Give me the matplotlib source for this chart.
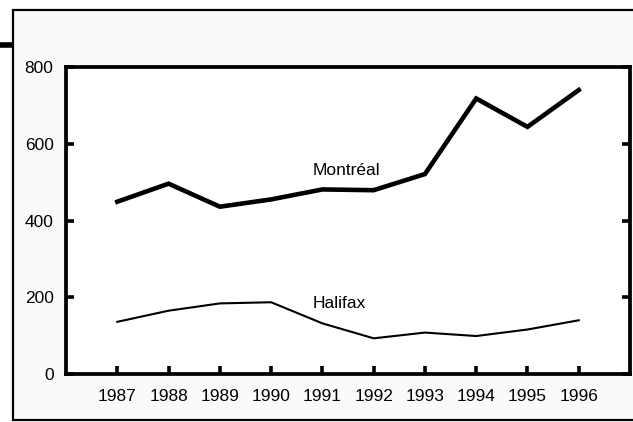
import matplotlib
matplotlib.use("Agg")
import matplotlib.pyplot as plt
from matplotlib.patches import Rectangle
from matplotlib.lines import Line2D

plt.rcParams['font.family'] = ['Liberation Sans', 'DejaVu Sans']

# data
years = [1987, 1988, 1989, 1990, 1991, 1992, 1993, 1994, 1995, 1996]
montreal = [449, 496, 436, 455, 481, 479, 521, 718, 644, 740]
halifax = [136, 165, 184, 187, 132, 93, 108, 99, 116, 140]
yticks = [0, 200, 400, 600, 800]

fig = plt.figure(figsize=(6.33, 4.22), dpi=100)
fig.patch.set_facecolor('white')

# outer frame (runs off the right edge) + little bar at top-left
fig.patches.append(Rectangle((0.021, 0.005), 1.2, 0.971, transform=fig.transFigure,
                             facecolor='#fafafa', edgecolor='black', linewidth=1.6, zorder=-2))
fig.lines.append(Line2D([0, 0.021], [0.893, 0.893], transform=fig.transFigure,
                        color='black', linewidth=4, solid_capstyle='butt', zorder=-1))

ax = fig.add_axes([0.1043, 0.1137, 0.8910, 0.7275])
ax.set_facecolor('white')
ax.plot(years, montreal, color='black', linewidth=3.3, solid_joinstyle='miter')
ax.plot(years, halifax, color='black', linewidth=1.5)

ax.text(1990.81, 531, 'Montréal', fontsize=12.5, va='center', ha='left')
ax.text(1990.81, 185, 'Halifax', fontsize=12.5, va='center', ha='left')

ax.set_xlim(1986, 1997)
ax.set_ylim(0, 800)
ax.set_xticks(years)
ax.set_yticks(yticks)
ax.tick_params(axis='both', direction='in', length=6, width=2.6, labelsize=12.5)
ax.tick_params(axis='y', right=True, pad=9)
ax.tick_params(axis='x', pad=11)
for s in ax.spines.values():
    s.set_linewidth(2.7)

fig.savefig('out.png', dpi=100)
